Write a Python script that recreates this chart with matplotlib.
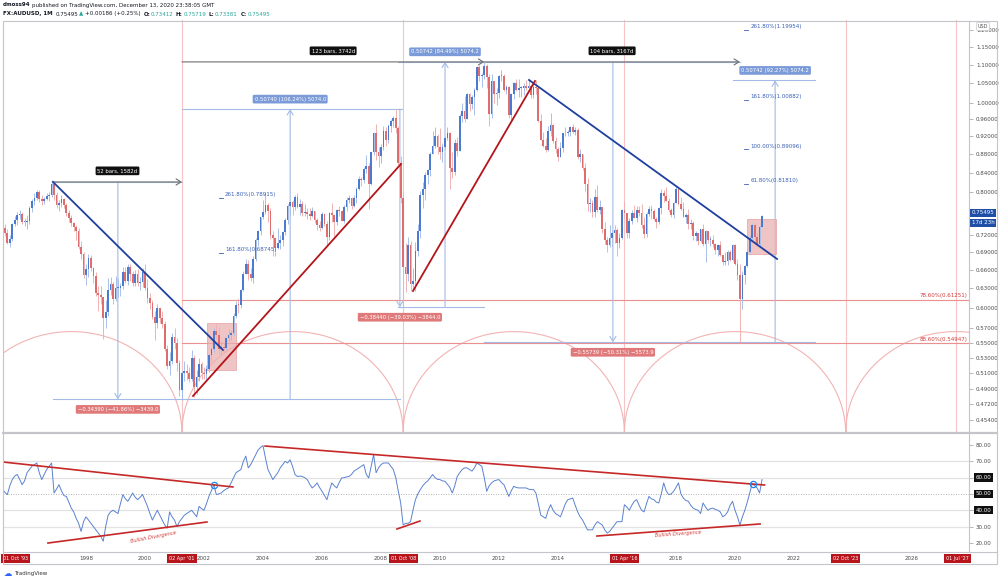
"""AUDUSD monthly chart with cycle lines, measurements and RSI panel (TradingView style)."""
import matplotlib
matplotlib.use("Agg")
import matplotlib.pyplot as plt
import numpy as np
from matplotlib.patches import Rectangle
from matplotlib.ticker import NullLocator

# ── monthly candles, Jan 1995 .. Dec 2020 ──────────────────────────────────
first_open = 0.7620
closes = [
    0.7600, 0.7370, 0.7330, 0.7230, 0.7060, 0.7130, 0.7390, 0.7470, 0.7560, 0.7580, 0.7430, 0.7440,
    0.7450, 0.7700, 0.7830, 0.7900, 0.8000, 0.7880, 0.7830, 0.7880, 0.7940, 0.7960, 0.8180, 0.7960,
    0.7760, 0.7800, 0.7880, 0.7750, 0.7600, 0.7500, 0.7410, 0.7340, 0.7270, 0.6980, 0.6860, 0.6520,
    0.6610, 0.6800, 0.6620, 0.6500, 0.6230, 0.6200, 0.6160, 0.5850, 0.5940, 0.6280, 0.6360, 0.6130,
    0.6300, 0.6310, 0.6330, 0.6560, 0.6420, 0.6650, 0.6530, 0.6390, 0.6530, 0.6380, 0.6400, 0.6560,
    0.6310, 0.6150, 0.6070, 0.5860, 0.5780, 0.5990, 0.5850, 0.5770, 0.5410, 0.5190, 0.5250, 0.5580,
    0.5500, 0.5230, 0.4890, 0.5100, 0.5120, 0.5100, 0.5030, 0.5300, 0.4920, 0.5050, 0.5210, 0.5100,
    0.5090, 0.5150, 0.5330, 0.5410, 0.5660, 0.5600, 0.5410, 0.5440, 0.5430, 0.5560, 0.5610, 0.5630,
    0.5880, 0.6050, 0.6040, 0.6270, 0.6530, 0.6700, 0.6530, 0.6460, 0.6780, 0.7100, 0.7260, 0.7520,
    0.7620, 0.7760, 0.7640, 0.7200, 0.7140, 0.6960, 0.7050, 0.7100, 0.7250, 0.7470, 0.7740, 0.7810,
    0.7720, 0.7920, 0.7720, 0.7780, 0.7600, 0.7620, 0.7580, 0.7550, 0.7630, 0.7470, 0.7380, 0.7330,
    0.7580, 0.7400, 0.7160, 0.7600, 0.7570, 0.7430, 0.7660, 0.7630, 0.7460, 0.7720, 0.7860, 0.7890,
    0.7740, 0.7890, 0.8080, 0.8280, 0.8260, 0.8490, 0.8540, 0.8170, 0.8850, 0.9290, 0.8840, 0.8770,
    0.8960, 0.9330, 0.9130, 0.9440, 0.9560, 0.9630, 0.9400, 0.8620, 0.7900, 0.6650, 0.6530, 0.7010,
    0.6370, 0.6420, 0.6920, 0.7260, 0.7960, 0.8060, 0.8360, 0.8460, 0.8810, 0.8990, 0.9210, 0.8970,
    0.8840, 0.8960, 0.9170, 0.9270, 0.8500, 0.8410, 0.9040, 0.8880, 0.9670, 0.9800, 0.9620, 1.0220,
    0.9970, 1.0160, 1.0340, 1.0950, 1.0710, 1.0730, 1.0970, 1.0680, 0.9730, 1.0560, 1.0220, 1.0250,
    1.0700, 1.0710, 1.0340, 1.0410, 0.9710, 1.0240, 1.0510, 1.0330, 1.0390, 1.0390, 1.0440, 1.0390,
    1.0440, 1.0200, 1.0420, 1.0370, 0.9560, 0.9130, 0.8990, 0.8890, 0.9330, 0.9460, 0.9090, 0.8920,
    0.8740, 0.8930, 0.9270, 0.9290, 0.9300, 0.9430, 0.9300, 0.9340, 0.8740, 0.8800, 0.8510, 0.8170,
    0.7770, 0.7800, 0.7620, 0.7920, 0.7660, 0.7710, 0.7300, 0.7100, 0.7020, 0.7140, 0.7230, 0.7290,
    0.7060, 0.7140, 0.7660, 0.7600, 0.7230, 0.7450, 0.7600, 0.7510, 0.7650, 0.7600, 0.7380, 0.7210,
    0.7580, 0.7680, 0.7640, 0.7480, 0.7430, 0.7690, 0.7990, 0.7940, 0.7840, 0.7650, 0.7560, 0.7800,
    0.8060, 0.7770, 0.7680, 0.7530, 0.7560, 0.7400, 0.7420, 0.7180, 0.7230, 0.7080, 0.7310, 0.7040,
    0.7270, 0.7100, 0.7100, 0.7040, 0.6930, 0.7020, 0.6840, 0.6730, 0.6750, 0.6890, 0.6760, 0.7020,
    0.6690, 0.6510, 0.6140, 0.6520, 0.6660, 0.6900, 0.7150, 0.7370, 0.7160, 0.7030, 0.7341, 0.75495,
]
highs = [
    0.7700, 0.7640, 0.7450, 0.7400, 0.7310, 0.7200, 0.7420, 0.7550, 0.7620, 0.7650, 0.7620, 0.7500,
    0.7570, 0.7740, 0.7870, 0.7990, 0.8040, 0.8050, 0.7950, 0.7920, 0.7990, 0.8010, 0.8260, 0.8200,
    0.8000, 0.7850, 0.7950, 0.7900, 0.7800, 0.7650, 0.7560, 0.7440, 0.7380, 0.7320, 0.7090, 0.6900,
    0.6700, 0.6860, 0.6840, 0.6640, 0.6560, 0.6330, 0.6330, 0.6170, 0.6120, 0.6460, 0.6480, 0.6400,
    0.6490, 0.6460, 0.6390, 0.6640, 0.6650, 0.6690, 0.6690, 0.6580, 0.6600, 0.6610, 0.6480, 0.6620,
    0.6700, 0.6440, 0.6230, 0.6120, 0.5950, 0.6060, 0.6000, 0.5950, 0.5800, 0.5470, 0.5370, 0.5640,
    0.5700, 0.5570, 0.5270, 0.5120, 0.5260, 0.5210, 0.5180, 0.5400, 0.5330, 0.5140, 0.5290, 0.5240,
    0.5180, 0.5200, 0.5350, 0.5440, 0.5700, 0.5780, 0.5720, 0.5520, 0.5500, 0.5580, 0.5690, 0.5680,
    0.5920, 0.6100, 0.6150, 0.6290, 0.6580, 0.6780, 0.6760, 0.6620, 0.6830, 0.7140, 0.7290, 0.7530,
    0.7860, 0.7990, 0.7800, 0.7700, 0.7270, 0.7100, 0.7330, 0.7200, 0.7260, 0.7500, 0.7780, 0.7830,
    0.7850, 0.7960, 0.7990, 0.7880, 0.7830, 0.7770, 0.7690, 0.7700, 0.7720, 0.7640, 0.7510, 0.7460,
    0.7620, 0.7600, 0.7460, 0.7620, 0.7790, 0.7570, 0.7680, 0.7730, 0.7650, 0.7750, 0.7910, 0.7950,
    0.7920, 0.7950, 0.8120, 0.8330, 0.8320, 0.8530, 0.8790, 0.8600, 0.8860, 0.9300, 0.9490, 0.8960,
    0.9030, 0.9440, 0.9410, 0.9480, 0.9600, 0.9670, 0.9850, 0.9450, 0.8760, 0.8010, 0.7060, 0.7160,
    0.7080, 0.6630, 0.7070, 0.7400, 0.8030, 0.8220, 0.8430, 0.8480, 0.8860, 0.9330, 0.9410, 0.9250,
    0.9400, 0.9050, 0.9210, 0.9410, 0.9310, 0.8860, 0.9140, 0.9180, 0.9730, 0.9990, 1.0180, 1.0260,
    1.0250, 1.0200, 1.0380, 1.0980, 1.0990, 1.0780, 1.1080, 1.1020, 1.0760, 1.0760, 1.0470, 1.0370,
    1.0720, 1.0850, 1.0760, 1.0470, 1.0440, 1.0250, 1.0540, 1.0620, 1.0620, 1.0440, 1.0500, 1.0590,
    1.0600, 1.0460, 1.0500, 1.0600, 1.0420, 0.9730, 0.9300, 0.9160, 0.9440, 0.9760, 0.9500, 0.9190,
    0.8960, 0.9080, 0.9280, 0.9420, 0.9360, 0.9440, 0.9500, 0.9410, 0.9400, 0.8910, 0.8800, 0.8610,
    0.8290, 0.7900, 0.7850, 0.8070, 0.8160, 0.7850, 0.7720, 0.7440, 0.7160, 0.7380, 0.7260, 0.7380,
    0.7320, 0.7240, 0.7680, 0.7840, 0.7600, 0.7510, 0.7650, 0.7760, 0.7730, 0.7730, 0.7780, 0.7530,
    0.7620, 0.7740, 0.7750, 0.7680, 0.7520, 0.7720, 0.8070, 0.8050, 0.8120, 0.7900, 0.7690, 0.7820,
    0.8140, 0.8040, 0.7920, 0.7810, 0.7610, 0.7680, 0.7480, 0.7450, 0.7270, 0.7230, 0.7310, 0.7390,
    0.7290, 0.7210, 0.7170, 0.7200, 0.7060, 0.7030, 0.7080, 0.6850, 0.6900, 0.6930, 0.6930, 0.7030,
    0.7030, 0.6770, 0.6690, 0.6570, 0.6680, 0.7060, 0.7200, 0.7410, 0.7410, 0.7240, 0.7380, 0.75719,
]
lows = [
    0.7520, 0.7300, 0.7130, 0.7180, 0.7030, 0.6990, 0.7080, 0.7350, 0.7380, 0.7480, 0.7400, 0.7360,
    0.7300, 0.7400, 0.7620, 0.7760, 0.7850, 0.7820, 0.7750, 0.7770, 0.7850, 0.7840, 0.7910, 0.7860,
    0.7700, 0.7640, 0.7710, 0.7700, 0.7550, 0.7440, 0.7360, 0.7260, 0.7100, 0.6940, 0.6780, 0.6470,
    0.6350, 0.6480, 0.6570, 0.6380, 0.6180, 0.5950, 0.6060, 0.5550, 0.5700, 0.5880, 0.6190, 0.6060,
    0.6100, 0.6160, 0.6180, 0.6290, 0.6380, 0.6350, 0.6420, 0.6330, 0.6330, 0.6330, 0.6270, 0.6320,
    0.6270, 0.6080, 0.5980, 0.5830, 0.5540, 0.5700, 0.5780, 0.5700, 0.5390, 0.5150, 0.5070, 0.5210,
    0.5420, 0.5120, 0.4820, 0.4775, 0.5000, 0.5010, 0.4990, 0.5000, 0.4800, 0.4840, 0.5000, 0.5020,
    0.5030, 0.5030, 0.5110, 0.5250, 0.5380, 0.5550, 0.5350, 0.5330, 0.5360, 0.5400, 0.5520, 0.5540,
    0.5610, 0.5850, 0.5930, 0.5990, 0.6250, 0.6530, 0.6430, 0.6410, 0.6390, 0.6750, 0.7000, 0.7200,
    0.7480, 0.7580, 0.7430, 0.7120, 0.6830, 0.6830, 0.6950, 0.6940, 0.7000, 0.7190, 0.7400, 0.7570,
    0.7560, 0.7650, 0.7700, 0.7570, 0.7550, 0.7550, 0.7490, 0.7470, 0.7520, 0.7410, 0.7280, 0.7260,
    0.7310, 0.7360, 0.7020, 0.7110, 0.7440, 0.7180, 0.7370, 0.7550, 0.7450, 0.7420, 0.7640, 0.7790,
    0.7670, 0.7710, 0.7790, 0.8050, 0.8140, 0.8200, 0.8400, 0.7680, 0.8160, 0.8790, 0.8680, 0.8530,
    0.8600, 0.8890, 0.8990, 0.9050, 0.9300, 0.9420, 0.9270, 0.8560, 0.7800, 0.6010, 0.6240, 0.6410,
    0.6250, 0.6250, 0.6250, 0.6830, 0.7150, 0.7700, 0.7850, 0.8180, 0.8340, 0.8830, 0.8940, 0.8800,
    0.8690, 0.8630, 0.8920, 0.9110, 0.8070, 0.8290, 0.8350, 0.8770, 0.8880, 0.9540, 0.9540, 0.9720,
    0.9800, 0.9850, 0.9710, 1.0310, 1.0560, 1.0400, 1.0620, 1.0380, 0.9440, 0.9630, 1.0010, 0.9950,
    1.0130, 1.0560, 1.0300, 1.0230, 0.9640, 0.9590, 1.0100, 1.0300, 1.0150, 1.0150, 1.0210, 1.0340,
    1.0370, 1.0120, 1.0120, 1.0220, 0.9530, 0.9140, 0.8970, 0.8850, 0.8880, 0.9200, 0.9050, 0.8830,
    0.8660, 0.8760, 0.8840, 0.9200, 0.9200, 0.9200, 0.9280, 0.9240, 0.8690, 0.8640, 0.8470, 0.8030,
    0.7630, 0.7620, 0.7530, 0.7530, 0.7620, 0.7580, 0.7240, 0.7040, 0.6890, 0.6980, 0.7000, 0.7060,
    0.6830, 0.6970, 0.7120, 0.7490, 0.7150, 0.7150, 0.7400, 0.7540, 0.7440, 0.7540, 0.7330, 0.7150,
    0.7160, 0.7540, 0.7490, 0.7470, 0.7330, 0.7400, 0.7590, 0.7810, 0.7830, 0.7620, 0.7520, 0.7500,
    0.7800, 0.7760, 0.7650, 0.7520, 0.7410, 0.7310, 0.7310, 0.7110, 0.7090, 0.7020, 0.7070, 0.7000,
    0.6730, 0.7060, 0.7000, 0.6990, 0.6860, 0.6830, 0.6820, 0.6680, 0.6670, 0.6670, 0.6750, 0.6750,
    0.6680, 0.6430, 0.5510, 0.5980, 0.6370, 0.6640, 0.6880, 0.7090, 0.7010, 0.7000, 0.6990, 0.73381,
]
rsi = [
    50.0, 48.0, 53.0, 51.0, 49.6, 55.0, 58.8, 61.0, 62.0, 59.0, 55.7, 58.0,
    63.0, 65.0, 67.0, 68.0, 69.0, 63.0, 58.8, 62.0, 65.0, 67.0, 69.0, 50.6,
    53.0, 55.7, 52.0, 49.0, 48.5, 45.0, 41.3, 39.0, 35.0, 32.0, 27.0, 33.0,
    36.0, 34.0, 32.0, 30.0, 28.0, 26.0, 24.0, 21.0, 30.0, 37.0, 39.0, 40.0,
    39.0, 38.0, 44.0, 49.6, 47.0, 45.5, 48.0, 50.6, 48.0, 46.5, 48.0, 49.6,
    46.0, 42.4, 38.0, 34.0, 37.0, 40.0, 37.0, 34.0, 31.0, 29.0, 39.0, 36.0,
    34.0, 30.0, 33.0, 35.0, 37.0, 38.0, 39.0, 40.0, 38.0, 36.0, 42.4, 41.0,
    40.0, 44.0, 48.5, 52.0, 55.7, 49.6, 50.0, 50.6, 52.0, 53.0, 53.7, 56.8,
    60.0, 63.0, 64.0, 65.0, 70.0, 73.2, 66.0, 68.0, 71.0, 74.0, 77.0, 78.5,
    79.7, 72.0, 65.0, 62.0, 58.8, 61.0, 63.0, 66.0, 68.0, 70.0, 69.0, 71.0,
    67.0, 62.0, 60.7, 61.0, 60.7, 60.0, 58.8, 56.0, 53.7, 55.0, 56.8, 54.0,
    51.6, 49.0, 46.5, 52.0, 56.8, 55.0, 53.7, 57.0, 59.8, 60.0, 60.5, 60.7,
    62.0, 64.0, 65.0, 66.0, 67.0, 68.0, 62.0, 59.8, 67.0, 74.2, 63.0, 66.0,
    68.0, 69.0, 69.0, 69.0, 67.0, 65.0, 60.0, 52.0, 44.5, 31.0, 32.0, 32.0,
    33.0, 40.0, 46.5, 50.0, 52.7, 55.0, 56.8, 58.0, 60.0, 61.9, 60.0, 59.0,
    58.8, 58.0, 57.8, 56.0, 54.0, 50.6, 55.0, 60.7, 63.0, 65.0, 66.0, 66.0,
    65.0, 64.0, 66.0, 69.0, 68.0, 67.0, 60.0, 51.6, 55.0, 56.8, 58.0, 58.5,
    58.8, 57.0, 55.7, 52.0, 48.5, 52.0, 54.7, 54.0, 53.7, 53.7, 53.7, 53.7,
    53.0, 52.7, 52.7, 50.6, 44.0, 37.0, 36.0, 35.0, 40.0, 43.4, 40.0, 38.0,
    37.0, 36.0, 40.0, 44.0, 46.5, 47.0, 47.5, 43.0, 39.0, 36.0, 34.0, 31.0,
    28.0, 28.0, 28.0, 31.0, 33.0, 32.0, 31.0, 28.0, 26.0, 27.0, 29.0, 31.0,
    33.0, 33.0, 33.0, 43.4, 42.0, 40.0, 43.0, 45.5, 46.5, 43.0, 40.0, 39.0,
    44.0, 48.5, 47.0, 46.5, 45.0, 44.5, 50.0, 56.8, 52.0, 49.6, 50.0, 51.6,
    54.0, 56.8, 50.0, 47.5, 46.0, 45.5, 43.0, 41.3, 40.5, 40.0, 38.0, 44.5,
    42.0, 40.0, 41.0, 41.3, 40.5, 40.0, 39.0, 36.0, 37.0, 39.0, 43.0, 45.5,
    40.0, 36.0, 31.0, 36.0, 40.0, 45.0, 50.6, 56.3, 55.0, 53.7, 50.6, 58.8,
]

price_ticks = [1.20, 1.15, 1.10, 1.05, 1.00, 0.96, 0.92, 0.88, 0.84, 0.80,
               0.72, 0.69, 0.66, 0.63, 0.60, 0.57, 0.55, 0.53, 0.51, 0.49, 0.472, 0.454]
rsi_ticks = [80, 70, 60, 50, 40, 30, 20]
rsi_boxed = [60, 50, 40]
year_ticks = [1998, 2000, 2002, 2004, 2006, 2008, 2010, 2012, 2014, 2018, 2020, 2022, 2026]

cycle_dates = [1993.75, 2001.25, 2008.75, 2016.25, 2023.75, 2031.25]
cycle_marks = [(1993.75, "01 Oct '93"), (2001.25, "02 Apr '01"), (2008.75, "01 Oct '08"),
               (2016.25, "01 Apr '16"), (2023.75, "02 Oct '23"), (2027.5, "01 Jul '27")]

# drawings (decimal year, price)
blue_trends = [((1996.881, 0.8213), (2002.644, 0.5401)), ((2013.017, 1.0592), (2021.424, 0.6778))]
red_trends = [((2001.627, 0.4816), (2008.678, 0.8590)), ((2009.085, 0.6258), (2013.220, 1.0565))]
boxes = [(2002.10, 0.5134, 2003.08, 0.5783), (2020.41, 0.6863, 2021.39, 0.7485)]

bar_counts = [(1996.881, 2001.254, 0.8213, "52 bars, 1582d"),
              (2001.254, 2011.500, 1.1080, "123 bars, 3742d"),
              (2011.500, 2020.167, 1.1080, "104 bars, 3167d")]
# (t0, t1, t_vertical, price_from, price_to, label)
price_ranges = [
    (1996.881, 2001.254, 1999.08, 0.8213, 0.4775, "\u22120.34390 (\u221241.86%) \u22123439.0"),
    (2001.254, 2008.644, 2004.92, 0.4775, 0.9849, "0.50740 (106.24%) 5074.0"),
    (2008.580, 2011.490, 2010.17, 0.6009, 1.1083, "0.50742 (84.49%) 5074.2"),
    (2008.600, 2008.700, 2008.64, 0.9849, 0.6009, "\u22120.38440 (\u221239.03%) \u22123844.0"),
    (2011.500, 2020.167, 2015.86, 1.1080, 0.5506, "\u22120.55739 (\u221250.31%) \u22125573.9"),
    (2019.930, 2022.710, 2021.36, 0.5506, 1.0580, "0.50742 (92.27%) 5074.2"),
]
fib_left = [(0.78915, "261.80%(0.78915)"), (0.68745, "161.80%(0.68745)")]
fib_right = [(1.19954, "261.80%(1.19954)"), (1.00882, "161.80%(1.00882)"),
             (0.89096, "100.00%(0.89096)"), (0.81810, "61.80%(0.81810)")]
fib_red = [(0.61251, "78.60%(0.61251)"), (0.54947, "88.60%(0.54947)")]

rsi_red_lines = [((1995.19, 69.6), (2002.98, 54.3)), ((1996.71, 19.9), (2002.10, 32.8)),
                 ((2004.07, 79.4), (2021.00, 55.5)), ((2008.54, 28.5), (2009.32, 33.4)),
                 ((2015.32, 24.2), (2020.85, 31.6))]
rsi_circles = [(2002.34, 55.5), (2020.61, 56.1)]
divergence_notes = [(2000.27, 23.6, 11), (2018.07, 25.5, 4)]

# ── layout helpers ─────────────────────────────────────────────────────────
W, H = 1000, 582
X0, X1 = 1995.186, 2027.932
UP, DOWN = "#4a7bd0", "#e06d6d"
LIGHT_BLUE = "#a3bbe6"
FS = 4.0


def px(x0, y0, x1, y1):
    return [x0 / W, 1 - y1 / H, (x1 - x0) / W, (y1 - y0) / H]


def tag(axis, x, y, text, fc, dy=0.0, dx=0.0, ha="center", fs=3.8, xycoords="data",
        style="round,pad=0.35,rounding_size=0.25", zorder=8):
    axis.annotate(text, (x, y), xycoords=xycoords, xytext=(dx, dy), textcoords="offset points",
                  ha=ha, va="center", fontsize=fs, color="white", annotation_clip=False,
                  zorder=zorder, bbox=dict(boxstyle=style, fc=fc, ec="none"))


fig = plt.figure(figsize=(10, 5.82), dpi=100)
ax = fig.add_axes(px(3, 20, 969, 433))
rax = fig.add_axes(px(3, 433, 969, 552), sharex=ax)
for a in (ax, rax):
    for s in a.spines.values():
        s.set_visible(False)

# ── price pane ─────────────────────────────────────────────────────────────
t = 1995 + np.arange(len(closes)) / 12
c = np.array(closes)
o = np.array([first_open] + closes[:-1])
hi = np.maximum(np.array(highs), np.maximum(o, c))
lo = np.minimum(np.array(lows), np.minimum(o, c))
up = c >= o

ax.set_yscale("log")

for d in cycle_dates + [2027.5]:
    ax.axvline(d, color="#f6c4c4", lw=0.8, zorder=1)
theta = np.linspace(0, np.pi, 240)
p_base, p_top = 0.4391, 0.5655
for a0, a1 in zip(cycle_dates[:-1], cycle_dates[1:]):
    tt = (a0 + a1) / 2 + (a1 - a0) / 2 * np.cos(theta)
    yy = np.exp(np.log(p_base) + (np.log(p_top) - np.log(p_base)) * np.sin(theta))
    ax.plot(tt, yy, color="#f3b3b3", lw=0.8, zorder=1)

for lvl, txt in fib_red:
    ax.plot([2001.254, X1], [lvl, lvl], color="#ec8f8f", lw=0.8, zorder=2)
    ax.text(X1 - 0.05, lvl * 1.003, txt, ha="right", va="bottom", fontsize=FS,
            color="#d43c3c", zorder=6)

# measurement tools
for t0, t1, tv, pa, pb, txt in price_ranges:
    ax.plot([t0, t1], [pa, pa], color=LIGHT_BLUE, lw=0.8, zorder=2)
    ax.plot([t0, t1], [pb, pb], color=LIGHT_BLUE, lw=0.8, zorder=2)
    ax.annotate("", xy=(tv, pb), xytext=(tv, pa), zorder=2,
                arrowprops=dict(arrowstyle="->,head_length=0.35,head_width=0.22",
                                color=LIGHT_BLUE, lw=0.8, shrinkA=0, shrinkB=0))
    rising = pb > pa
    tag(ax, tv, pb, txt, "#7b9bd8" if rising else "#e07a7a", dy=7.2 if rising else -7.2)

for t0, t1, lvl, txt in bar_counts:
    ax.annotate("", xy=(t1, lvl), xytext=(t0, lvl), zorder=3,
                arrowprops=dict(arrowstyle="->,head_length=0.35,head_width=0.22",
                                color="#6f6f6f", lw=0.8, shrinkA=0, shrinkB=0))
    tag(ax, (t0 + t1) / 2, lvl, txt, "#101010", dy=8.0)

for x0, y0, x1, y1 in boxes:
    ax.add_patch(Rectangle((x0, y0), x1 - x0, y1 - y0, fc="#eab0b0", ec="#e39a9a",
                           lw=0.6, alpha=0.75, zorder=2))

# candles
ax.vlines(t[up], lo[up], hi[up], color="#a9c0ea", lw=0.7, zorder=4)
ax.vlines(t[~up], lo[~up], hi[~up], color="#f0b2b2", lw=0.7, zorder=4)
ax.bar(t, np.maximum(np.abs(c - o), 0.0015), bottom=np.minimum(o, c), width=0.058,
       color=np.where(up, UP, DOWN), linewidth=0, zorder=5)

for (ta, pa), (tb, pb) in blue_trends:
    ax.plot([ta, tb], [pa, pb], color="#1f3f9f", lw=1.3, zorder=7)
for (ta, pa), (tb, pb) in red_trends:
    ax.plot([ta, tb], [pa, pb], color="#b3151b", lw=1.3, zorder=7)

for group, t_start in ((fib_left, 2002.71), (fib_right, 2020.52)):
    for lvl, txt in group:
        ax.plot([t_start - 0.2, t_start - 0.07], [lvl, lvl], color="#3a5fb5", lw=0.6, zorder=6)
        ax.text(t_start, lvl * 1.002, txt, ha="left", va="bottom", fontsize=FS,
                color="#3a5fb5", zorder=6)

ax.set_xlim(X0, X1)
ax.set_ylim(0.4391, 1.2301)
ax.yaxis.tick_right()
ax.set_yticks(price_ticks)
ax.set_yticklabels([f"{v:.5f}" for v in price_ticks])
ax.yaxis.set_minor_locator(NullLocator())
ax.tick_params(axis="y", length=3, width=0.5, color="#9a9a9a", labelsize=FS,
               labelcolor="#4a4a4a", pad=2)
ax.tick_params(axis="x", bottom=False, labelbottom=False)

last = closes[-1]
tag(ax, 1.0, last, f"{last:.5f}", "#1e4ea6", dy=2.0, dx=2.2, ha="left", fs=FS,
    xycoords=("axes fraction", "data"), style="square,pad=0.3")
tag(ax, 1.0, last, "17d 23h", "#1e4ea6", dy=-5.0, dx=2.2, ha="left", fs=FS,
    xycoords=("axes fraction", "data"), style="square,pad=0.3")

# ── RSI pane ───────────────────────────────────────────────────────────────
for lvl in (70, 60, 40, 30):
    rax.axhline(lvl, color="#e3e3e3", lw=0.9, zorder=1)
rax.axhline(50, color="#9a9a9a", lw=0.6, ls=(0, (1, 2)), zorder=1)
rax.plot(t, rsi, color="#5a82d0", lw=0.7, zorder=3)
for (ta, ra), (tb, rb) in rsi_red_lines:
    rax.plot([ta, tb], [ra, rb], color="#c62828", lw=1.2, zorder=4)
for tc, rc in rsi_circles:
    rax.plot(tc, rc, "o", mfc="none", mec="#1e88e5", ms=4.5, mew=0.9, zorder=5)
for tn, rn, rot in divergence_notes:
    rax.text(tn, rn, "Bullish Divergence", rotation=rot, ha="center", va="center",
             fontsize=3.6, color="#d43c3c", style="italic", zorder=5)

rax.set_ylim(14.4, 87.4)
rax.yaxis.tick_right()
rax.set_yticks(rsi_ticks)
rax.set_yticklabels(["" if v in rsi_boxed else f"{v:.2f}" for v in rsi_ticks])
rax.tick_params(axis="y", length=3, width=0.5, color="#9a9a9a", labelsize=FS,
                labelcolor="#4a4a4a", pad=2)
for v in rsi_boxed:
    tag(rax, 1.0, v, f"{v:.2f}", "#101010", dx=4.5, ha="left", fs=FS,
        xycoords=("axes fraction", "data"), style="square,pad=0.3")

rax.set_xticks(year_ticks)
rax.set_xticklabels([str(y) for y in year_ticks])
rax.tick_params(axis="x", length=0, labelsize=FS, labelcolor="#4a4a4a", pad=3)

for d, txt in cycle_marks:
    if d < X0:
        xd, ha = X0, "left"
    elif d > X1 - 0.6:
        xd, ha = X1, "right"
    else:
        xd, ha = d, "center"
    tag(rax, xd, 0, txt, "#b8141c", dy=-4.6, ha=ha, fs=3.5,
        xycoords=("data", "axes fraction"), style="square,pad=0.4", zorder=10)

# ── frame and header ───────────────────────────────────────────────────────
ov = fig.add_axes([0, 0, 1, 1], zorder=20)
ov.set_xlim(0, W)
ov.set_ylim(H, 0)
ov.axis("off")
ov.patch.set_alpha(0)
ov.add_patch(Rectangle((3, 20.5), 994, 543.5, fill=False, ec="#c3c5cb", lw=0.8))
ov.plot([3, 997], [433, 433], color="#c3c5cb", lw=1.6)
ov.plot([3, 997], [552, 552], color="#c3c5cb", lw=0.8)
ov.plot([969, 969], [20.5, 552], color="#c3c5cb", lw=0.8)
ov.text(983, 26.5, "USD", fontsize=3.5, color="#555", ha="center", va="center",
        bbox=dict(boxstyle="round,pad=0.3", fc="white", ec="#c8c8c8", lw=0.5))

dark = "#131722"
teal = "#26a69a"
header_1 = [("dmoss94", dark, "bold", 1.5),
            ("published on TradingView.com, December 13, 2020 23:38:05 GMT", dark, "normal", 0)]
header_2 = [("FX:AUDUSD, 1M", dark, "bold", 2.5), ("0.75495", dark, "normal", 1.5),
            ("\u25b2", teal, "normal", 1.5), ("+0.00186 (+0.25%)", dark, "normal", 2.5),
            ("O:", dark, "bold", 0.6), ("0.73412", teal, "normal", 2.5),
            ("H:", dark, "bold", 0.6), ("0.75719", teal, "normal", 2.5),
            ("L:", dark, "bold", 0.6), ("0.73381", teal, "normal", 2.5),
            ("C:", dark, "bold", 0.6), ("0.75495", teal, "normal", 0)]
renderer = fig.canvas.get_renderer()
for y, pieces in ((5, header_1), (14, header_2)):
    x = 3.0
    for txt, col, wt, gap in pieces:
        item = ov.text(x, y, txt, fontsize=FS, color=col, fontweight=wt, va="center")
        x += item.get_window_extent(renderer=renderer).width + gap

ov.text(4, 574, "\u2601", fontsize=6, color="#2962ff", va="center")
ov.text(14, 574, "TradingView", fontsize=4, color="#333", va="center")

fig.savefig("out.png", dpi=100)
